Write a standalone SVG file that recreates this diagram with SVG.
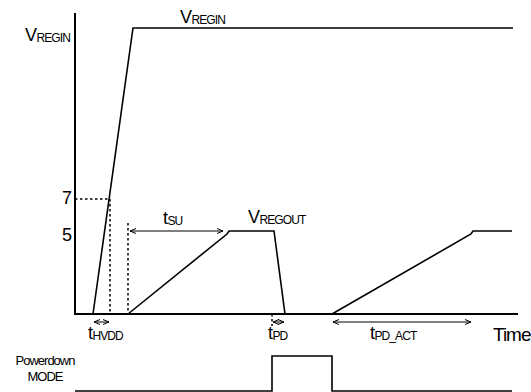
<svg xmlns="http://www.w3.org/2000/svg" width="531" height="392" viewBox="0 0 531 392">
<style>
.t{font-family:"Liberation Sans",Arial,sans-serif;fill:#000}
.s{stroke:#000;fill:none;stroke-width:1.6}
.a{stroke:#000;fill:none;stroke-width:2}
.d{stroke:#000;fill:none;stroke-width:1.5;stroke-dasharray:2.5 2.5}
.ar{stroke:#000;fill:none;stroke-width:1;marker-start:url(#h);marker-end:url(#h)}
.m{font-size:18px;letter-spacing:-0.6px}
.sub{font-size:12px;letter-spacing:-0.9px}
</style>
<defs>
<marker id="h" viewBox="0 0 8 8" refX="7" refY="4" markerWidth="8" markerHeight="8" orient="auto-start-reverse" markerUnits="userSpaceOnUse">
<path d="M1,1.5 L7,4 L1,6.5" fill="none" stroke="#000" stroke-width="1"/>
</marker>
</defs>
<g id="axes">
<path class="a" d="M75,13 V314 H518"/>
</g>
<g id="connectors">
<path class="s" d="M93,314 L133,28 H513"/>
<path class="d" d="M75,199 H110 V314"/>
<path class="d" d="M128,223 V314"/>
<path class="s" d="M128,314 L227,234 L229,231 H274 L285,314"/>
<path class="s" d="M332,314 L471,234 L473,231 H512"/>
<path class="d" d="M272,314 V326"/>
<path class="ar" d="M130,231 H223"/>
<path class="ar" d="M94,322 H109"/>
<path class="ar" d="M273,322 H284"/>
<path class="ar" d="M333,322 H471"/>
<path class="s" d="M75,391 H272 V356 H332 V391 H512"/>
</g>
<g id="labels">
<text class="t m" x="25" y="41">V<tspan class="sub" dy="1">REGIN</tspan></text>
<text class="t m" x="180" y="23">V<tspan class="sub" dy="1">REGIN</tspan></text>
<text class="t m" x="62" y="204">7</text>
<text class="t m" x="62" y="241">5</text>
<text class="t m" x="163" y="224">t<tspan class="sub" dy="1">SU</tspan></text>
<text class="t m" x="248" y="223">V<tspan class="sub" dy="1">REGOUT</tspan></text>
<text class="t m" x="88" y="339">t<tspan class="sub" dy="1">HVDD</tspan></text>
<text class="t m" x="268" y="339">t<tspan class="sub" dy="1">PD</tspan></text>
<text class="t m" x="370" y="339">t<tspan class="sub" dy="1">PD_ACT</tspan></text>
<text class="t" x="493" y="341" font-size="19" letter-spacing="-1">Time</text>
<text class="t" x="45" y="365" font-size="13" text-anchor="middle" letter-spacing="-1">Powerdown</text>
<text class="t" x="45" y="381" font-size="13" text-anchor="middle" letter-spacing="-1">MODE</text>
</g>
</svg>
